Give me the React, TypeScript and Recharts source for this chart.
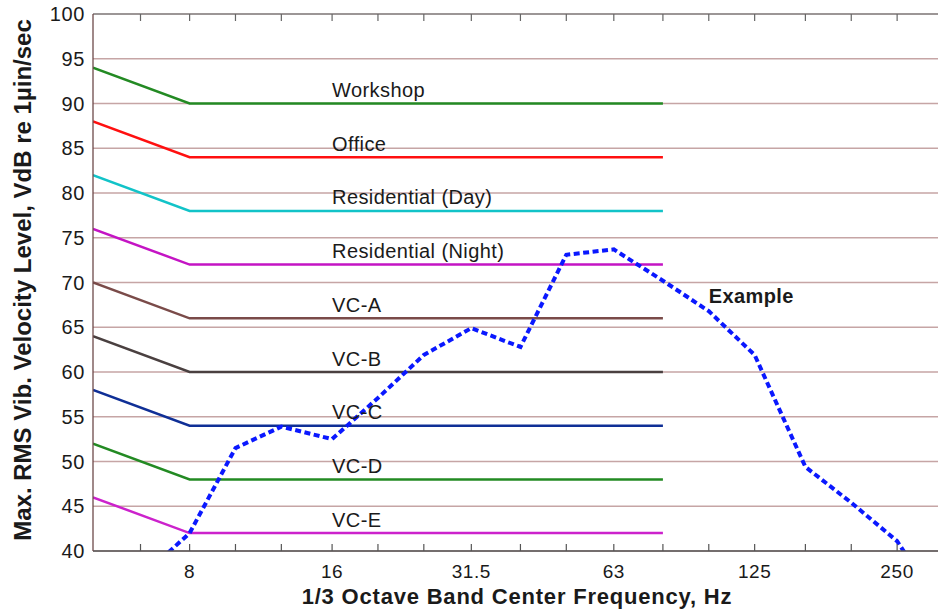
import { LineChart, Line, XAxis, YAxis, CartesianGrid, ReferenceDot } from "recharts";

// 1/3 octave band centres (Hz)
const FREQS = [5, 6.3, 8, 10, 12.5, 16, 20, 25, 31.5, 40, 50, 63, 80, 100, 125, 160, 200, 250, 315];
const TICK_FREQS = [6.3, 8, 10, 12.5, 16, 20, 25, 31.5, 40, 50, 63, 80, 100, 125, 160, 200, 250];
const LABELED_FREQS = [8, 16, 31.5, 63, 125, 250];
const LEVEL_TICKS = [40, 45, 50, 55, 60, 65, 70, 75, 80, 85, 90, 95, 100];

// vibration criteria: level at 5 Hz, then flat from 8 to 80 Hz
const CRITERIA = ["Workshop", "Office", "Residential (Day)", "Residential (Night)", "VC-A", "VC-B", "VC-C", "VC-D", "VC-E"];
const CRITERIA_AT_5HZ = [94, 88, 82, 76, 70, 64, 58, 52, 46];
const CRITERIA_FLAT = [90, 84, 78, 72, 66, 60, 54, 48, 42];
const CRITERIA_COLORS = ["#238a23", "#ff1010", "#12c3c8", "#c414c4", "#7a4b49", "#4a4040", "#0f2f96", "#238a23", "#cc22cc"];

// measured example spectrum
const EXAMPLE_FREQS = [6.3, 8, 10, 12.5, 16, 20, 25, 31.5, 40, 50, 63, 80, 100, 125, 160, 200, 250, 315];
const EXAMPLE_LEVELS = [37, 42, 51.5, 53.9, 52.5, 57.1, 61.9, 64.9, 62.8, 73.1, 73.7, 70.2, 66.8, 61.9, 49.4, 45.4, 41.1, 33];

const FONT = "'Liberation Sans', Arial, sans-serif";
const TEXT = "#1a1a1a";

const data = FREQS.map((f) => {
  const row: Record<string, number> = { f };
  CRITERIA.forEach((_, i) => {
    if (f === 5) row[`c${i}`] = CRITERIA_AT_5HZ[i];
    else if (f >= 8 && f <= 80) row[`c${i}`] = CRITERIA_FLAT[i];
  });
  const k = EXAMPLE_FREQS.indexOf(f);
  if (k >= 0) row.example = EXAMPLE_LEVELS[k];
  return row;
});

const BottomTick = (props: any) => {
  const { x, y, payload } = props;
  const shown = LABELED_FREQS.includes(payload.value);
  return (
    <g>
      <line x1={x} y1={y} x2={x} y2={y - 7} stroke="#555" strokeWidth={1.2} />
      {shown && (
        <text x={x} y={y + 27} textAnchor="middle" fontSize={19} letterSpacing={0.6} fontFamily={FONT} fill={TEXT}>
          {payload.value}
        </text>
      )}
    </g>
  );
};

const TopTick = (props: any) => {
  const { x, y } = props;
  return <line x1={x} y1={y} x2={x} y2={y + 7} stroke="#666" strokeWidth={1.2} />;
};

const lineLabel = (text: string, bold = false, dy = -6.5) => (p: any) => (
  <text
    x={p.cx}
    y={p.cy + dy}
    fontSize={20}
    letterSpacing={0.4}
    fontWeight={bold ? "bold" : "normal"}
    fontFamily={FONT}
    fill={TEXT}
  >
    {text}
  </text>
);

export default function App() {
  return (
    <div style={{ position: "absolute", left: 0, top: 0, width: 938, height: 612, background: "#fff" }}>
      <LineChart width={938} height={612} data={data} margin={{ top: 0, right: 0, bottom: 0, left: 0 }}>
        <CartesianGrid vertical={false} stroke="#c6a5a5" strokeWidth={1.3} />
        <XAxis
          dataKey="f"
          type="number"
          scale="log"
          domain={[5, 305]}
          allowDataOverflow
          ticks={TICK_FREQS}
          interval={0}
          height={61}
          tickSize={0}
          tickMargin={0}
          tickLine={false}
          axisLine={{ stroke: "#555", strokeWidth: 1.3 }}
          tick={BottomTick}
          label={{
            content: () => (
              <text
                x={517}
                y={604}
                textAnchor="middle"
                fontSize={22}
                letterSpacing={0.8}
                fontWeight="bold"
                fontFamily={FONT}
                fill={TEXT}
              >
                1/3 Octave Band Center Frequency, Hz
              </text>
            ),
          }}
        />
        <XAxis
          xAxisId="top"
          orientation="top"
          dataKey="f"
          type="number"
          scale="log"
          domain={[5, 305]}
          allowDataOverflow
          ticks={TICK_FREQS}
          interval={0}
          height={14}
          tickSize={0}
          tickMargin={0}
          tickLine={false}
          axisLine={{ stroke: "#8a8a8a", strokeWidth: 1.3 }}
          tick={TopTick}
        />
        <YAxis
          type="number"
          domain={[40, 100]}
          allowDataOverflow
          ticks={LEVEL_TICKS}
          interval={0}
          width={93}
          tickSize={0}
          tickMargin={8}
          tickLine={false}
          axisLine={{ stroke: "#6d4a4a", strokeWidth: 1.3 }}
          tick={{ fontSize: 20, fontFamily: FONT, fill: TEXT, letterSpacing: 0.6 }}
          label={{
            content: () => (
              <text
                x={31}
                y={280}
                transform="rotate(-90 31 280)"
                textAnchor="middle"
                fontSize={24}
                fontWeight="bold"
                fontFamily={FONT}
                fill={TEXT}
              >
                Max. RMS Vib. Velocity Level, VdB re 1µin/sec
              </text>
            ),
          }}
        />
        {CRITERIA.map((name, i) => (
          <Line
            key={name}
            dataKey={`c${i}`}
            stroke={CRITERIA_COLORS[i]}
            strokeWidth={2.5}
            dot={false}
            connectNulls
            isAnimationActive={false}
          />
        ))}
        <Line
          dataKey="example"
          stroke="#0a18ff"
          strokeWidth={4}
          strokeDasharray="6 3.5"
          dot={false}
          connectNulls
          isAnimationActive={false}
        />
        {CRITERIA.map((name, i) => (
          <ReferenceDot key={`lbl-${name}`} x={16} y={CRITERIA_FLAT[i]} r={0} shape={lineLabel(name)} />
        ))}
        <ReferenceDot x={100} y={67.7} r={0} shape={lineLabel("Example", true, 0)} />
      </LineChart>
    </div>
  );
}
